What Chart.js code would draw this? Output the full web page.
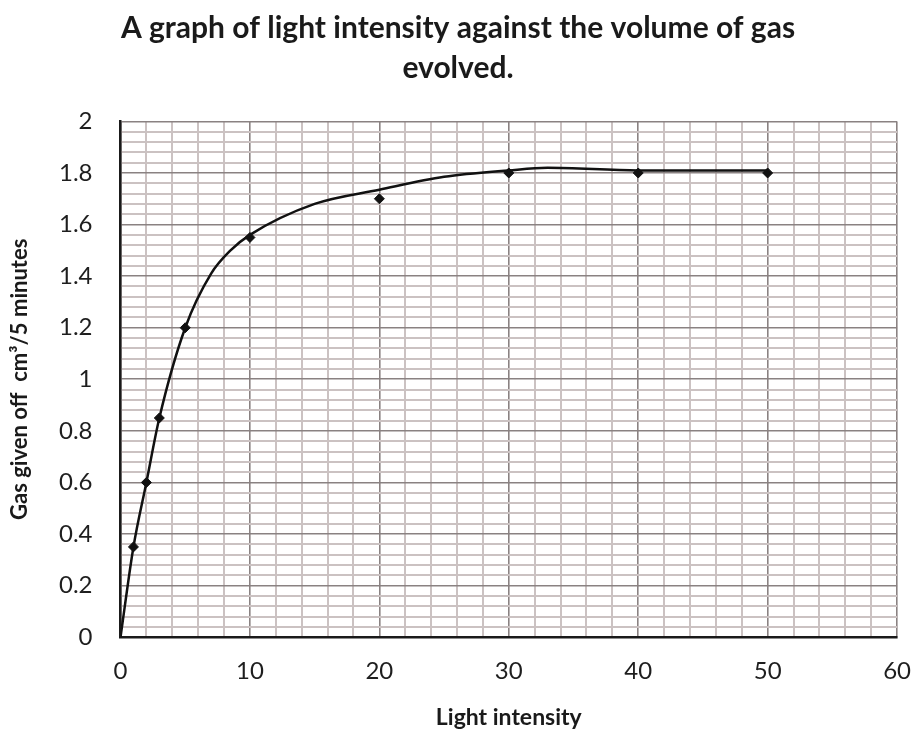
<!DOCTYPE html>
<html>
<head>
<meta charset="utf-8">
<title>Light intensity graph</title>
<script src="https://cdn.jsdelivr.net/npm/chart.js@4"></script>
<style>
  html, body { margin: 0; padding: 0; background: #fff; }
  #wrap { width: 913px; height: 729px; }
</style>
</head>
<body>
<div id="wrap"><canvas id="grafico"></canvas></div>
<script>
// measured points (markers)
const lightIntensity = [1, 2, 3, 5, 10, 20, 30, 40, 50];
const gasVolume = [0.35, 0.6, 0.85, 1.2, 1.55, 1.7, 1.8, 1.8, 1.8];

// hand-drawn best fit curve
const curveX = [0, 1, 2, 3, 5, 7, 8.5, 10, 15, 20, 25, 30, 33, 40, 50];
const curveY = [0, 0.35, 0.6, 0.85, 1.2, 1.41, 1.5, 1.56, 1.68, 1.735, 1.785, 1.81, 1.82, 1.81, 1.81];

const xMajor = 10, xMinor = 2;
const yMajor = 0.2, yMinor = 0.04;

const majorColor = '#8a8282';
const minorColor = '#cbc2c2';
const fontFamily = 'Lato, "Open Sans", sans-serif';

function isMajor(v, step) {
    const r = v / step;
    return Math.abs(r - Math.round(r)) < 1e-6;
}

const ctx = document.getElementById('grafico').getContext('2d');
const grafico = new Chart(ctx, {
    type: 'scatter',
    data: {
        datasets: [
            {
                label: 'curve',
                data: curveX.map((x, i) => ({ x: x, y: curveY[i] })),
                showLine: true,
                borderColor: '#111',
                borderWidth: 2.5,
                pointRadius: 0,
                cubicInterpolationMode: 'monotone'
            },
            {
                label: 'readings',
                data: lightIntensity.map((x, i) => ({ x: x, y: gasVolume[i] })),
                pointStyle: 'rectRot',
                pointRadius: 5,
                backgroundColor: '#111',
                borderColor: '#111',
                borderWidth: 1
            }
        ]
    },
    options: {
        responsive: true,
        maintainAspectRatio: false,
        animation: false,
        layout: { padding: { left: 3, right: 0, top: 8, bottom: 0 } },
        plugins: {
            legend: { display: false },
            tooltip: { enabled: false },
            title: {
                display: true,
                text: ['A graph of light intensity against the volume of gas', 'evolved.'],
                color: '#1a1a1a',
                font: { family: fontFamily, size: 30, weight: 'bold', lineHeight: 1.34 },
                padding: { top: 0, bottom: 33 }
            }
        },
        scales: {
            x: {
                type: 'linear',
                min: 0,
                max: 60,
                border: { color: '#1a1a1a', width: 2.5 },
                grid: {
                    // invisible tick marks give the label gap without widening the right padding
                    drawTicks: true,
                    tickLength: 18,
                    tickColor: 'rgba(0,0,0,0)',
                    color: c => isMajor(c.tick.value, xMajor) ? majorColor : minorColor,
                    lineWidth: c => isMajor(c.tick.value, xMajor) ? 1.6 : 2
                },
                ticks: {
                    stepSize: xMinor,
                    maxTicksLimit: 100,
                    autoSkip: false,
                    maxRotation: 0,
                    padding: 2,
                    color: '#1e1e1e',
                    font: { family: fontFamily, size: 24 },
                    callback: v => isMajor(v, xMajor) ? String(v) : ''
                },
                title: {
                    display: true,
                    text: 'Light intensity',
                    color: '#1a1a1a',
                    font: { family: fontFamily, size: 23, weight: 'bold', lineHeight: 1.0 },
                    padding: { top: 18, bottom: 0 }
                }
            },
            y: {
                type: 'linear',
                min: 0,
                max: 2,
                border: { color: '#1a1a1a', width: 2.5 },
                grid: {
                    drawTicks: false,
                    color: c => isMajor(c.tick.value, yMajor) ? majorColor : minorColor,
                    lineWidth: c => isMajor(c.tick.value, yMajor) ? 1.6 : 2
                },
                ticks: {
                    stepSize: yMinor,
                    maxTicksLimit: 100,
                    autoSkip: false,
                    padding: 28,
                    color: '#1e1e1e',
                    font: { family: fontFamily, size: 24 },
                    callback: v => isMajor(v, yMajor) ? String(Math.round(v * 10) / 10) : ''
                },
                title: {
                    display: true,
                    text: 'Gas given off  cm\u00b3/5 minutes',
                    color: '#1a1a1a',
                    font: { family: fontFamily, size: 22, weight: 'bold', lineHeight: 1.0 },
                    padding: { top: 6, bottom: 0 }
                }
            }
        }
    }
});
</script>
</body>
</html>
